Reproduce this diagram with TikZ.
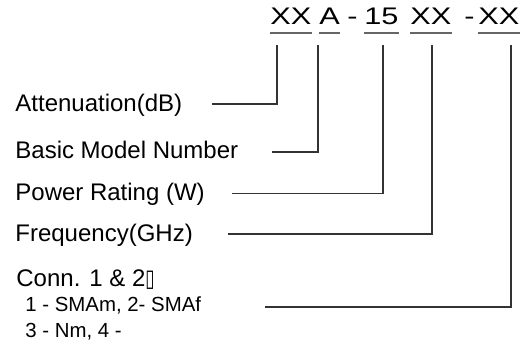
\documentclass[tikz,border=0pt]{standalone}
\usepackage{fontspec}
\setmainfont{Liberation Sans}
\newfontfamily\boxfont{DejaVu Sans}
\begin{document}
\begin{tikzpicture}[x=0.5pt,y=-0.5pt,
  code/.style={anchor=base west,inner sep=0pt,font=\fontsize{12}{14}\selectfont},
  lab/.style={anchor=base west,inner sep=0pt,font=\fontsize{12}{14}\selectfont},
  sublab/.style={anchor=base west,inner sep=0pt,font=\fontsize{10.2}{12}\selectfont},
  uline/.style={draw=black!60,line width=1pt},
  conn/.style={draw=black!80,line width=0.6pt}]
\useasboundingbox (0,0) rectangle (526,346);
% part number
\node[code] (c1) at (270,25) {\scalebox{1.28}[1]{XX}};
\node[code] (c2) at (319,25) {\scalebox{1.28}[1]{A}};
\node[code] (c3) at (347,25) {\scalebox{1.28}[1]{-}};
\node[code] (c4) at (364,25) {\scalebox{1.28}[1]{15}};
\node[code] (c5) at (410,25) {\scalebox{1.28}[1]{XX}};
\node[code] (c6) at (464,25) {\scalebox{1.28}[1]{-}};
\node[code] (c7) at (478,25) {\scalebox{1.28}[1]{XX}};
\coordinate (u) at (0,33);
\foreach \n in {c1,c2,c4,c5,c7}
  \draw[uline] (\n.west |- u) -- (\n.east |- u);
% labels
\node[lab] (att) at (15,112) {Attenuation(dB)};
\node[lab] (bas) at (15,159) {Basic Model Number};
\node[lab] (pow) at (15,201) {Power Rating (W)};
\node[lab] (fre) at (15,242) {Frequency(GHz)};
\node[lab] (con) at (16,287) {Conn. 1 \& 2{\boxfont\scalebox{0.7}[1]{▯}}};
\node[sublab] (s1) at (25,312) {1 - SMAm, 2- SMAf};
\node[sublab] (s2) at (25,338) {3 - Nm, 4 -};
% connector ends
\coordinate (t1) at (277,45);
\coordinate (t2) at (318,45);
\coordinate (t4) at (383,45);
\coordinate (t5) at (432,45);
\coordinate (t7) at (511,45);
\coordinate (h1) at (212,104);
\coordinate (h2) at (272,152);
\coordinate (h4) at (232,193.5);
\coordinate (h5) at (228,234);
\coordinate (h7) at (265,307);
\draw[conn] (h1) -| (t1);
\draw[conn] (h2) -| (t2);
\draw[conn] (h4) -| (t4);
\draw[conn] (h5) -| (t5);
\draw[conn] (h7) -| (t7);
\end{tikzpicture}
\end{document}
